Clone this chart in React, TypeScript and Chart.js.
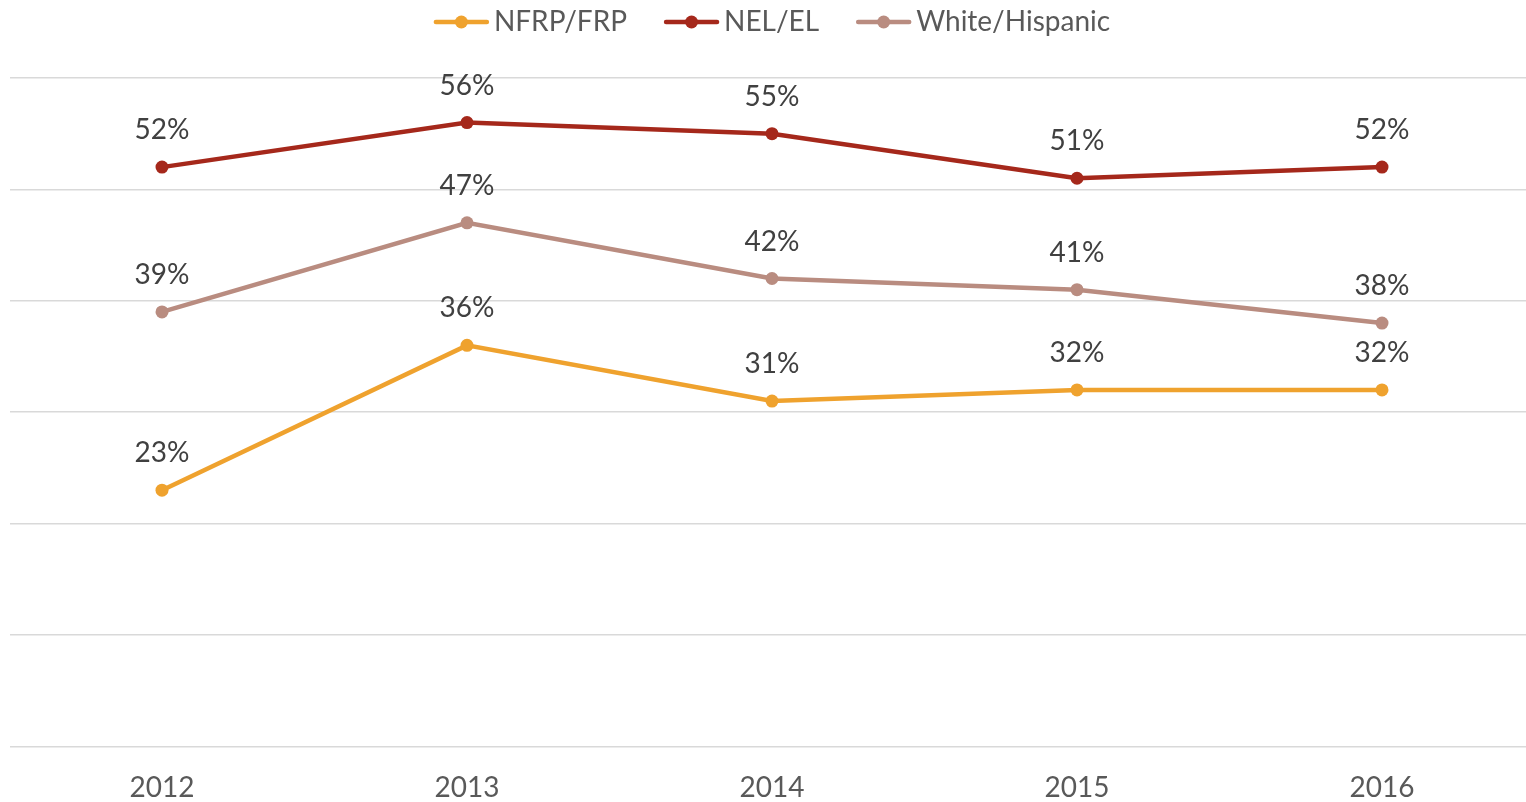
import React, { useEffect, useRef } from "react";
import { Chart, registerables } from "chart.js";

Chart.register(...registerables);

const years = ["2012", "2013", "2014", "2015", "2016"];
const nfrpFrp = [23, 36, 31, 32, 32];
const nelEl = [52, 56, 55, 51, 52];
const whiteHispanic = [39, 47, 42, 41, 38];
const seriesNames = ["NFRP/FRP", "NEL/EL", "White/Hispanic"];
const seriesColors = ["#EFA22E", "#A5281B", "#B98C80"];

const FONT = "Lato, 'Open Sans', sans-serif";
const FONT_SIZE = 28;

const dataLabelPlugin = {
  id: "dataLabels",
  afterDatasetsDraw(chart: any) {
    const ctx = chart.ctx;
    ctx.save();
    ctx.font = `${FONT_SIZE}px ${FONT}`;
    ctx.fillStyle = "#404040";
    ctx.textAlign = "center";
    ctx.textBaseline = "middle";
    chart.data.datasets.forEach((ds: any, i: number) => {
      const meta = chart.getDatasetMeta(i);
      meta.data.forEach((pt: any, j: number) => {
        ctx.fillText(ds.data[j] + "%", pt.x, pt.y - 37);
      });
    });
    ctx.restore();
  },
};

const legendPlugin = {
  id: "customLegend",
  afterDraw(chart: any) {
    const ctx = chart.ctx;
    const area = chart.chartArea;
    ctx.save();
    ctx.font = `${FONT_SIZE}px ${FONT}`;
    const iconW = 55;
    const gap = 5;
    const itemGap = 37;
    const widths = seriesNames.map((n) => ctx.measureText(n).width);
    const total =
      widths.reduce((a, b) => a + b, 0) + seriesNames.length * (iconW + gap) + (seriesNames.length - 1) * itemGap;
    let x = (area.left + area.right) / 2 - total / 2;
    const y = 22;
    seriesNames.forEach((name, i) => {
      ctx.strokeStyle = seriesColors[i];
      ctx.lineWidth = 4.5;
      ctx.lineCap = "round";
      ctx.beginPath();
      ctx.moveTo(x + 2, y);
      ctx.lineTo(x + iconW - 2, y);
      ctx.stroke();
      ctx.fillStyle = seriesColors[i];
      ctx.beginPath();
      ctx.arc(x + iconW / 2, y, 6.5, 0, Math.PI * 2);
      ctx.fill();
      ctx.fillStyle = "#595959";
      ctx.textAlign = "left";
      ctx.textBaseline = "middle";
      ctx.fillText(name, x + iconW + gap, y);
      x += iconW + gap + widths[i] + itemGap;
    });
    ctx.restore();
  },
};

export default function App() {
  const canvasRef = useRef<HTMLCanvasElement | null>(null);

  useEffect(() => {
    if (!canvasRef.current) return;
    const series = [nfrpFrp, nelEl, whiteHispanic];
    const chart = new Chart(canvasRef.current, {
      type: "line",
      data: {
        labels: years,
        datasets: series.map((d, i) => ({
          label: seriesNames[i],
          data: d,
          borderColor: seriesColors[i],
          backgroundColor: seriesColors[i],
          pointBackgroundColor: seriesColors[i],
          pointBorderColor: seriesColors[i],
          borderWidth: 4.5,
          pointRadius: 6.5,
          pointBorderWidth: 0,
          tension: 0,
          clip: false as any,
        })),
      },
      options: {
        animation: false,
        responsive: true,
        maintainAspectRatio: false,
        layout: { padding: { left: 9.5, right: 10.5, top: 78, bottom: 0 } },
        plugins: {
          legend: { display: false },
          tooltip: { enabled: false },
        },
        scales: {
          x: {
            offset: true,
            grid: { display: false, drawTicks: false },
            border: { display: false },
            ticks: {
              padding: 25,
              color: "#595959",
              font: { family: FONT, size: FONT_SIZE },
            },
          },
          y: {
            min: 0,
            max: 60,
            ticks: { stepSize: 10, display: false },
            grid: { color: "#d9d9d9", lineWidth: 1.5, drawTicks: false },
            border: { display: false },
          },
        },
      },
      plugins: [dataLabelPlugin, legendPlugin],
    });
    return () => chart.destroy();
  }, []);

  return (
    <div
      style={{
        position: "fixed",
        left: 0,
        top: 0,
        width: 1526,
        height: 802,
        overflow: "hidden",
        background: "#ffffff",
      }}
    >
      <div style={{ position: "relative", width: 1545, height: 830 }}>
        <canvas ref={canvasRef} />
      </div>
    </div>
  );
}
